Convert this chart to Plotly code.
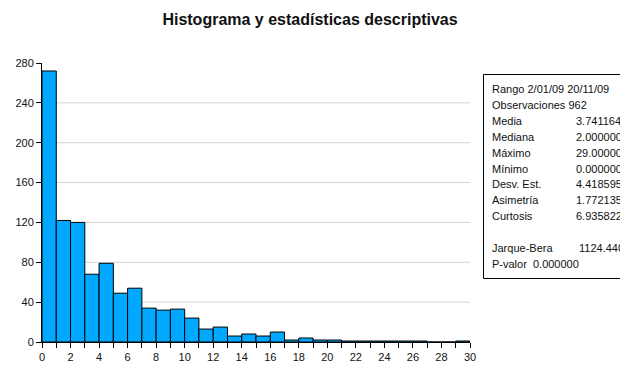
import plotly.graph_objects as go

# Histogram data (bin starts, width 1)
bin_starts = list(range(0, 30))
counts = [272, 122, 120, 68, 79, 49, 54, 34, 32, 33,
          24, 13, 15, 6, 8, 6, 10, 2, 4, 2,
          2, 1, 1, 1, 1, 1, 1, 0, 0, 1]

x_tickvals = list(range(0, 31))
x_ticktext = [str(v) if v % 2 == 0 else "" for v in x_tickvals]
y_tickvals = [0, 40, 80, 120, 160, 200, 240, 280]
grid_values = [40, 80, 120, 160, 200, 240]

stats_labels = ["Media", "Mediana", "Máximo", "Mínimo", "Desv. Est.", "Asimetría", "Curtosis"]
stats_values = ["3.741164", "2.000000", "29.00000", "0.000000", "4.418595", "1.772135", "6.935822"]
header_lines = ["Rango 2/01/09 20/11/09", "Observaciones 962"]
jb_label, jb_value = "Jarque-Bera", "1124.440"
pvalue_line = "P-valor  0.000000"

FONT = "Liberation Sans, Arial, sans-serif"

W, H = 620, 366
L, T = 42, 63
R = W - 470
B = H - 342
pw = W - L - R
ph = H - T - B


def px_x(px):
    return (px - L) / pw


def px_y(py):
    return (H - B - py) / ph


fig = go.Figure()
fig.add_trace(go.Bar(
    x=[b + 0.5 for b in bin_starts], y=counts, width=1,
    marker=dict(color="#00A8FF", line=dict(color="black", width=1)),
    hoverinfo="skip",
))

for g in grid_values:
    fig.add_shape(type="line", xref="paper", yref="y", x0=0, x1=1, y0=g, y1=g,
                  line=dict(color="#d4d4d4", width=1), layer="below")

fig.update_layout(
    width=W, height=H,
    margin=dict(l=L, r=R, t=T, b=B, autoexpand=False),
    paper_bgcolor="white", plot_bgcolor="white",
    showlegend=False,
    bargap=0,
    font=dict(family=FONT, size=11, color="#111"),
    title=dict(text="<b>Histograma y estadísticas descriptivas</b>",
               x=310 / W, xref="container", xanchor="center",
               y=1 - 19 / H, yref="container", yanchor="middle",
               font=dict(family=FONT, size=16, color="#111")),
    xaxis=dict(range=[0, 30], tickmode="array", tickvals=x_tickvals, ticktext=x_ticktext,
               ticks="outside", ticklen=5, tickcolor="black", showline=True,
               linecolor="black", linewidth=1, showgrid=False, zeroline=False,
               automargin=False, tickfont=dict(size=11, color="#111")),
    yaxis=dict(range=[0, 280], tickmode="array", tickvals=y_tickvals,
               ticks="outside", ticklen=5, tickcolor="black", showline=True,
               linecolor="black", linewidth=1, showgrid=False, zeroline=False,
               automargin=False, tickfont=dict(size=11, color="#111")),
)

# Stats box (runs off the right edge, as in the reference)
fig.add_shape(type="rect", xref="paper", yref="paper",
              x0=px_x(483.5), x1=px_x(700), y0=px_y(278.5), y1=px_y(74.5),
              line=dict(color="black", width=1), fillcolor="white")

step = 15.9
y = 89
x_lab = px_x(490)
x_val = px_x(574)


def note(x, yy, text):
    fig.add_annotation(x=x, y=px_y(yy), xref="paper", yref="paper", text=text,
                       showarrow=False, xanchor="left", yanchor="middle",
                       font=dict(size=11, color="#111", family=FONT))


for h in header_lines:
    note(x_lab, y, h)
    y += step
for lab, val in zip(stats_labels, stats_values):
    note(x_lab, y, lab)
    note(x_val, y, val)
    y += step
y += step
note(x_lab, y, jb_label)
note(px_x(577), y, jb_value)
y += step
note(x_lab, y, pvalue_line)

fig.write_html(
    "out.html",
    config={"displayModeBar": False, "staticPlot": True},
    post_script="document.body.style.margin='0';document.body.style.overflow='hidden';",
)
